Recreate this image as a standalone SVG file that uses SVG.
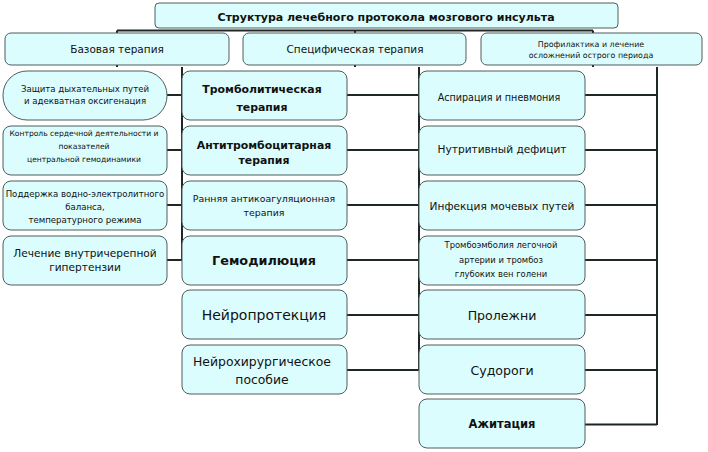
<svg xmlns="http://www.w3.org/2000/svg" width="708" height="452" viewBox="0 0 708 452">
<style>
.box{fill:#dcfdfd;stroke:#4f5d5d;stroke-width:1}
.ln{stroke:#1e2626;stroke-width:2;fill:none}
text{font-family:"DejaVu Sans","Liberation Sans",sans-serif;fill:#111;text-anchor:middle}
.t{font-size:11px;font-weight:bold}
.h{font-size:10.5px}
.s8{font-size:7.6px}
.p8{font-size:7.9px}
.e8{font-size:8.4px}
.s9{font-size:8.6px}
.r9{font-size:9.4px}
.s10{font-size:9.6px}
.s11{font-size:10.6px}
.s12{font-size:12.4px}
.b11{font-size:10.9px;font-weight:bold}
.b12{font-size:11.5px;font-weight:bold}
.m13{font-size:12.6px}
.m14{font-size:14px}
.g14{font-size:12.8px;font-weight:bold}
</style>
<rect width="708" height="452" fill="#fff"/>
<g id="connectors">
<path class="ln" d="M117 30.5H593 M117 30.5V34 M355 30.5V34 M593 30.5V34"/>
<path class="ln" d="M117 64V67 M355 64V67 M593 64V67"/>
<path class="ln" d="M182 67V261 M167 95H182 M167 150H182 M167 205H182 M167 260H182"/>
<path class="ln" d="M419 67V371 M347 95H419 M347 150H419 M347 205H419 M347 260H419 M347 315H419 M347 370H419"/>
<path class="ln" d="M657 67V425 M585 95H657 M585 150H657 M585 205H657 M585 260H657 M585 315H657 M585 370H657 M585 424.5H657"/>
</g>
<g id="title"><rect class="box" x="155" y="3" width="463" height="25" rx="4"/><text class="t" x="386" y="20.5">Структура лечебного протокола мозгового инсульта</text></g>
<g id="h-base"><rect class="box" x="5" y="33" width="224" height="32" rx="6"/><text class="h" x="117" y="53">Базовая терапия</text></g>
<g id="h-spec"><rect class="box" x="243" y="33" width="223" height="32" rx="6"/><text class="h" x="355" y="53">Специфическая терапия</text></g>
<g id="h-prof"><rect class="box" x="481" y="33" width="221" height="32" rx="6"/><text class="p8" x="591" y="47">Профилактика и лечение</text><text class="p8" x="591" y="58">осложнений острого периода</text></g>

<g id="l1"><rect class="box" x="3" y="71" width="164" height="49" rx="24"/><text class="s9" x="85" y="92">Защита дыхательных путей</text><text class="s9" x="85" y="104">и адекватная оксигенация</text></g>
<g id="l2"><rect class="box" x="3" y="126" width="164" height="49" rx="8"/><text class="s8" x="84" y="136">Контроль сердечной деятельности и</text><text class="s8" x="84" y="149">показателей</text><text class="s8" x="84" y="162">центральной гемодинамики</text></g>
<g id="l3"><rect class="box" x="3" y="181" width="164" height="49" rx="8"/><text class="s9" x="85" y="196.5">Поддержка водно-электролитного</text><text class="s9" x="85" y="209.5">баланса,</text><text class="s9" x="85" y="222.5">температурного режима</text></g>
<g id="l4"><rect class="box" x="3" y="236" width="164" height="49" rx="8"/><text class="s11" x="85" y="257">Лечение внутричерепной</text><text class="s11" x="85" y="271">гипертензии</text></g>

<g id="m1"><rect class="box" x="182" y="71" width="165" height="49" rx="8"/><text class="b11" x="262" y="93">Тромболитическая</text><text class="b11" x="262" y="111">терапия</text></g>
<g id="m2"><rect class="box" x="182" y="126" width="165" height="49" rx="8"/><text class="b11" x="264" y="149">Антитромбоцитарная</text><text class="b11" x="264" y="164">терапия</text></g>
<g id="m3"><rect class="box" x="182" y="181" width="165" height="49" rx="8"/><text class="r9" x="264" y="202">Ранняя антикоагуляционная</text><text class="r9" x="264" y="216">терапия</text></g>
<g id="m4"><rect class="box" x="182" y="236" width="165" height="49" rx="8"/><text class="g14" x="264" y="264.5">Гемодилюция</text></g>
<g id="m5"><rect class="box" x="182" y="290" width="165" height="49" rx="8"/><text class="m14" x="264" y="320">Нейропротекция</text></g>
<g id="m6"><rect class="box" x="182" y="345" width="165" height="49" rx="8"/><text class="s12" x="262" y="365.5">Нейрохирургическое</text><text class="s12" x="262" y="383.5">пособие</text></g>

<g id="r1"><rect class="box" x="419" y="71" width="166" height="49" rx="8"/><text class="s10" x="499" y="100.5">Аспирация и пневмония</text></g>
<g id="r2"><rect class="box" x="419" y="126" width="166" height="49" rx="8"/><text class="s11" x="502" y="153">Нутритивный дефицит</text></g>
<g id="r3"><rect class="box" x="419" y="181" width="166" height="49" rx="8"/><text class="s11" x="502" y="210">Инфекция мочевых путей</text></g>
<g id="r4"><rect class="box" x="419" y="236" width="166" height="49" rx="8"/><text class="e8" x="501" y="248">Тромбоэмболия легочной</text><text class="e8" x="501" y="263">артерии и тромбоз</text><text class="e8" x="501" y="277">глубоких вен голени</text></g>
<g id="r5"><rect class="box" x="419" y="290" width="166" height="49" rx="8"/><text class="m13" x="502" y="319.5">Пролежни</text></g>
<g id="r6"><rect class="box" x="419" y="345" width="166" height="49" rx="8"/><text class="m13" x="502" y="374.5">Судороги</text></g>
<g id="r7"><rect class="box" x="419" y="399" width="166" height="49" rx="8"/><text class="b12" x="502" y="428">Ажитация</text></g>
</svg>
